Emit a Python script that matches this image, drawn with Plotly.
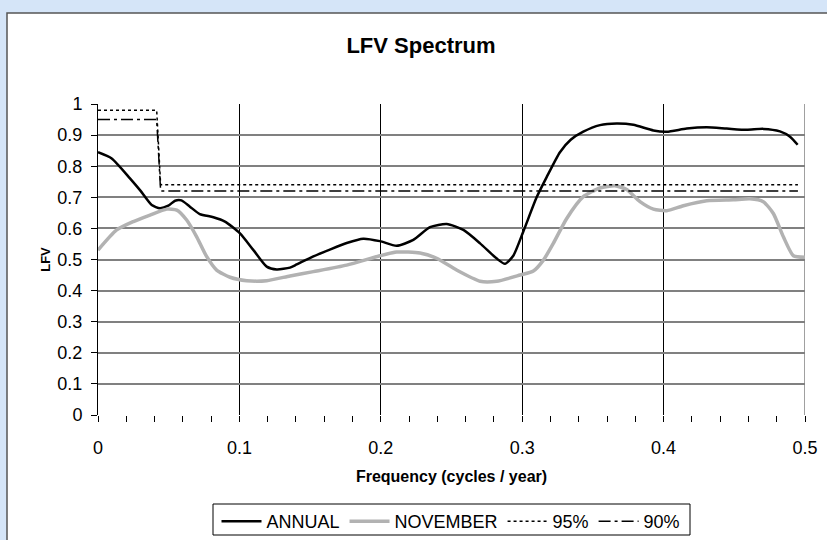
import plotly.graph_objects as go

# ---- data ----
annual_freq = [0.0, 0.0097, 0.0226, 0.0297, 0.038, 0.0438, 0.0497, 0.0545, 0.059, 0.065,
               0.072, 0.0816, 0.0898, 0.1004, 0.1098, 0.1193, 0.1264, 0.1358, 0.1405, 0.1523,
               0.164, 0.1759, 0.1876, 0.1994, 0.2112, 0.223, 0.2348, 0.2466, 0.2584, 0.2702,
               0.282, 0.2878, 0.2937, 0.3008, 0.3102, 0.3173, 0.3267, 0.3343, 0.3432, 0.355,
               0.3668, 0.3786, 0.3928, 0.4022, 0.4163, 0.4305, 0.4446, 0.4588, 0.4705, 0.4823,
               0.4894, 0.4948]
annual_lfv = [0.845, 0.825, 0.761, 0.723, 0.675, 0.665, 0.673, 0.689, 0.690, 0.670,
              0.646, 0.636, 0.622, 0.584, 0.531, 0.477, 0.468, 0.474, 0.484, 0.510,
              0.532, 0.553, 0.567, 0.559, 0.544, 0.563, 0.604, 0.614, 0.595, 0.552,
              0.503, 0.486, 0.512, 0.590, 0.700, 0.765, 0.845, 0.885, 0.911, 0.932,
              0.937, 0.933, 0.915, 0.911, 0.921, 0.925, 0.921, 0.917, 0.920, 0.912,
              0.895, 0.869]

nov_freq = [0.0, 0.0132, 0.025, 0.0368, 0.0486, 0.0557, 0.0627, 0.0698, 0.0769, 0.0839,
            0.0934, 0.1052, 0.1193, 0.1358, 0.1523, 0.1759, 0.1994, 0.2112, 0.2277, 0.2395,
            0.2536, 0.2702, 0.282, 0.2985, 0.3079, 0.315, 0.322, 0.3315, 0.3432, 0.355,
            0.3656, 0.3739, 0.3833, 0.3928, 0.4022, 0.414, 0.4305, 0.4494, 0.4611, 0.4705,
            0.4776, 0.4847, 0.4918, 0.5]
nov_lfv = [0.530, 0.595, 0.622, 0.643, 0.662, 0.659, 0.627, 0.573, 0.509, 0.466,
           0.443, 0.432, 0.432, 0.447, 0.461, 0.482, 0.512, 0.524, 0.521, 0.504,
           0.466, 0.430, 0.430, 0.450, 0.463, 0.498, 0.552, 0.632, 0.702, 0.730,
           0.737, 0.725, 0.686, 0.662, 0.657, 0.673, 0.689, 0.692, 0.695, 0.686,
           0.648, 0.573, 0.512, 0.507]

sig_freq = [0.0, 0.0415, 0.0443, 0.495]
sig95 = [0.98, 0.98, 0.74, 0.74]
sig90 = [0.95, 0.95, 0.72, 0.72]

x_ticks = [0, 0.1, 0.2, 0.3, 0.4, 0.5]
x_tick_text = ["0", "0.1", "0.2", "0.3", "0.4", "0.5"]
y_ticks = [0, 0.1, 0.2, 0.3, 0.4, 0.5, 0.6, 0.7, 0.8, 0.9, 1]
y_tick_text = ["0", "0.1", "0.2", "0.3", "0.4", "0.5", "0.6", "0.7", "0.8", "0.9", "1"]

FONT = "Liberation Sans, Arial, sans-serif"

fig = go.Figure()
fig.add_trace(go.Scatter(x=annual_freq, y=annual_lfv, mode="lines", name="ANNUAL",
                         line=dict(color="black", width=2.5, shape="spline", smoothing=0.6)))
fig.add_trace(go.Scatter(x=nov_freq, y=nov_lfv, mode="lines", name="NOVEMBER",
                         line=dict(color="#B2B2B2", width=3.5, shape="spline", smoothing=0.6)))
fig.add_trace(go.Scatter(x=sig_freq, y=sig95, mode="lines", name="95%",
                         line=dict(color="black", width=1.5, dash="3px,3px")))
fig.add_trace(go.Scatter(x=sig_freq, y=sig90, mode="lines", name="90%",
                         line=dict(color="black", width=1.5, dash="12px,4px,3px,4px")))

L, R, T, B = 98, 22, 104, 125
W, H = 827, 540
pw, ph = W - L - R, H - T - B


def px_x(p):
    return (p - L) / pw


def px_y(p):
    return ((H - B) - p) / ph


# white chart area with dark border
fig.add_shape(type="rect", xref="paper", yref="paper",
              x0=px_x(7), x1=px_x(840), y0=px_y(560), y1=px_y(13),
              fillcolor="white", line=dict(color="#555555", width=1.5), layer="below")
# right border of the plot area in grey
fig.add_shape(type="line", xref="x", yref="paper", x0=0.5, x1=0.5, y0=0, y1=1,
              line=dict(color="#808080", width=1.5), layer="below")
# legend box
fig.add_shape(type="rect", xref="paper", yref="paper",
              x0=px_x(213), x1=px_x(690), y0=px_y(535), y1=px_y(504),
              fillcolor="white", line=dict(color="black", width=1), layer="below")

fig.update_layout(
    width=W, height=H,
    margin=dict(l=L, r=R, t=T, b=B, autoexpand=False),
    paper_bgcolor="#D5E5F8",
    plot_bgcolor="rgba(0,0,0,0)",
    font=dict(family=FONT, color="black"),
    title=dict(text="<b>LFV Spectrum</b>", xref="container", x=421 / W,
               yref="container", y=1 - 45.5 / H, xanchor="center", yanchor="middle",
               font=dict(size=22, family=FONT, color="black")),
    showlegend=True,
    legend=dict(orientation="h", xref="paper", x=px_x(451), xanchor="center",
                yref="container", y=1 - 521.5 / H, yanchor="middle",
                borderwidth=0, bgcolor="rgba(0,0,0,0)",
                font=dict(size=18, family=FONT), itemwidth=40,
                tracegroupgap=0),
)

fig.update_xaxes(range=[0, 0.5], tickvals=x_ticks, ticktext=x_tick_text,
                 showgrid=True, gridcolor="black", gridwidth=1,
                 zeroline=False, showline=False, automargin=False,
                 ticks="outside", ticklen=6, tickcolor="black", tickwidth=1,
                 ticklabelstandoff=10,
                 minor=dict(dtick=0.02, tick0=0, ticks="outside", ticklen=6,
                            tickcolor="black", tickwidth=1, showgrid=False),
                 tickfont=dict(size=18, family=FONT),
                 title=dict(text="<b>Frequency (cycles / year)</b>", standoff=14,
                            font=dict(size=16, family=FONT)))
fig.update_yaxes(range=[0, 1], tickvals=y_ticks, ticktext=y_tick_text,
                 showgrid=True, gridcolor="#808080", gridwidth=1.5,
                 zeroline=False, showline=True, linecolor="black", linewidth=1,
                 automargin=False,
                 ticks="outside", ticklen=6, tickcolor="black", tickwidth=1,
                 ticklabelstandoff=5,
                 tickfont=dict(size=18, family=FONT),
                 title=dict(text="<b>LFV</b>", standoff=3,
                            font=dict(size=13, family=FONT)))

fig.write_html("out.html", config={"displayModeBar": False},
               post_script="document.body.style.margin='0';document.body.style.padding='0';")
